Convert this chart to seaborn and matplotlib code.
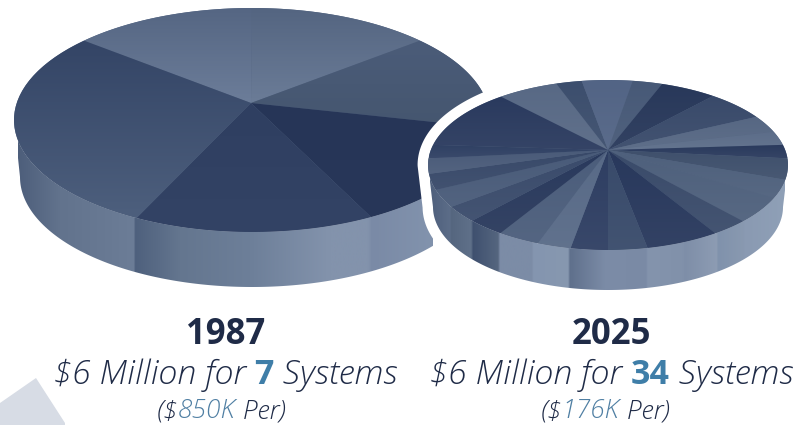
import numpy as np
import matplotlib
matplotlib.use("Agg")
import matplotlib.pyplot as plt
from matplotlib.colors import LinearSegmentedColormap, to_rgb
from matplotlib.patches import Polygon
import seaborn as sns

# ---- data: slice sizes in degrees of the disc, clockwise from the start angle
years = ["1987", "2025"]
systems = ["7", "34"]
per_system = ["850K", "176K"]
budget_label = "$6 Million for "

shares_1987 = [44.9, 44.9, 49.1, 56.0, 59.0, 106.1]
top_1987 = ["#556683", "#546581", "#4b5c79", "#263557", "#2f3f61", "#344566"]
bottom_1987 = ["#6c7d99", "#6b7c97", "#45566f", "#283759", "#334365", "#4d5f7d"]

shares_2025 = [19.8, 8.3, 16.3, 9.6, 18.2, 19.8, 11.5, 9.3, 9.2, 14.5, 12.8, 18.6,
               12.0, 23.9, 12.7, 12.0, 11.0, 13.7, 12.3, 11.5, 12.5, 11.0, 10.5, 9.2, 39.8]
colors_2025 = ["#586985", "#3c4e6d", "#526485", "#475977", "#28385a", "#394a6a", "#566783",
               "#5c6d89", "#2a3a5d", "#3f506c", "#4e607c", "#4e607c", "#3a4b6a", "#28385c",
               "#384a6a", "#2e3e62", "#586a87", "#4b5d7b", "#29395c", "#3a4b6b", "#495b79",
               "#384969", "#4a5b79", "#2f4063", "#2a3a5e"]

side_x_1987 = [18, 60, 134, 135, 180, 250, 330, 368, 372, 433]
side_c_1987 = ["#4d5e7b", "#62738d", "#6c7d97", "#4e607d", "#64768f", "#6d7f99",
               "#8393ac", "#8393ac", "#7a8aa6", "#8293ad"]
side_x_2025 = [430, 450, 451, 471, 473, 498, 500, 532, 533, 568, 570, 606, 646, 648,
               683, 685, 717, 718, 744, 745, 785]
side_c_2025 = ["#4e5f7c", "#5c6d88", "#55667f", "#5f7089", "#3f506f", "#55667f", "#7c8ca7",
               "#7c8ca6", "#8495af", "#8798b0", "#5f708c", "#7c8ca7", "#7a8aa5", "#8494ad",
               "#8191aa", "#7e8ea8", "#8d9cb3", "#8092ac", "#8999b0", "#8a9ab2", "#8fa0b7"]

# ---- layout
W, H = 802, 425
sns.set_theme(style="white")
plt.rcParams["font.family"] = ["Open Sans", "DejaVu Sans"]
fig = plt.figure(figsize=(W / 100, H / 100), dpi=100)
ax = fig.add_axes([0, 0, 1, 1])
ax.set_xlim(0, W)
ax.set_ylim(H, 0)
ax.axis("off")


def rim(t_deg, cx, cy, a, b):
    t = np.radians(t_deg)
    return np.column_stack([cx + a * np.sin(t), cy - b * np.cos(t)])


def vfill(poly, c_top, c_bot, z):
    x0, y0 = poly.min(axis=0)
    x1, y1 = poly.max(axis=0)
    cols = np.array(sns.blend_palette([c_top, c_bot], 48))[:, None, :3]
    im = ax.imshow(cols, extent=(x0, x1, y1, y0), aspect="auto", zorder=z,
                   interpolation="bilinear", origin="upper")
    im.set_clip_path(Polygon(poly, closed=True, transform=ax.transData))


def disc(shares, start, tops, bots, apex, top_e, bot_e, sx, sc, z):
    # side wall
    t = np.linspace(90, 270, 200)
    wall = np.vstack([rim(t, *top_e), rim(t[::-1], *bot_e)])
    pos = (np.array(sx) - sx[0]) / (sx[-1] - sx[0])
    cmap = LinearSegmentedColormap.from_list("s", list(zip(pos, sc)), N=1024)
    im = ax.imshow(np.linspace(0, 1, 1024)[None, :], cmap=cmap, aspect="auto",
                   extent=(sx[0], sx[-1], H, 0), zorder=z, interpolation="bilinear")
    im.set_clip_path(Polygon(wall, closed=True, transform=ax.transData))
    # base to hide seams
    ax.fill(*rim(np.linspace(0, 360, 361), *top_e).T, color=tops[0], zorder=z + 0.1, lw=0)
    # slices
    edges = start + np.concatenate([[0], np.cumsum(shares)])
    for i in range(len(shares)):
        arc = rim(np.linspace(edges[i], edges[i + 1], 40), *top_e)
        poly = np.vstack([[apex], arc])
        vfill(poly, tops[i], bots[i], z + 0.2 + i * 0.001)


def lighten(c, f=0.05):
    r = np.array(to_rgb(c))
    return tuple(r + (1 - r) * f)


# pale backdrop corner
corner_x = [0, 36, 65, 65, 0]
corner_y = [403, 378, 423, 425, 425]
ax.fill(corner_x, corner_y, color="#d7dce5", lw=0, zorder=0.5)

# big disc
disc(shares_1987, -44.9, top_1987, bottom_1987, (251, 103),
     (252, 120, 238, 112), (252, 177, 232, 110), side_x_1987, side_c_1987, 1)

# white halo around small disc
small_top = (608, 165, 180, 85)
small_bot = (608, 207, 175, 83)
tl = np.linspace(90, 270, 181)
halo = np.vstack([rim(tl, *small_bot), rim(np.linspace(270, 450, 181), *small_top)])
ax.add_patch(Polygon(halo, closed=True, fc="white", ec="white", lw=15, joinstyle="round", zorder=3))

# small disc
disc(shares_2025, -36.5, colors_2025, [lighten(c) for c in colors_2025], (608, 150),
     small_top, small_bot, side_x_2025, side_c_2025, 4)
ax.set_xlim(0, W)
ax.set_ylim(H, 0)

# text
INK = "#1f2b47"
BLUE = "#3f7ea8"
SOFT = "#4f7fa3"
renderer = fig.canvas.get_renderer()


def run(pieces, xc, y, size):
    arts = [ax.text(0, y, s, fontsize=size, color=c, style=st, fontweight=w, va="baseline",
                    ha="left", zorder=9) for s, c, st, w in pieces]
    widths = []
    for art, (s, *_r) in zip(arts, pieces):
        art.set_text("|" + s + "|")
        w1 = art.get_window_extent(renderer).width
        art.set_text("||")
        w0 = art.get_window_extent(renderer).width
        art.set_text(s)
        widths.append(w1 - w0)
    x = xc - sum(widths) / 2
    for art, w in zip(arts, widths):
        art.set_x(x)
        x += w


line2_x = [225, 611]
line3_x = [221, 605]
year_x = [226, 611]
for i in range(2):
    ax.text(year_x[i], 344, years[i], fontsize=25, fontweight="bold", color=INK, ha="center",
            va="baseline", zorder=9)
    run([(budget_label, INK, "italic", "light"), (systems[i], BLUE, "normal", "bold"),
         (" Systems", INK, "italic", "light")], line2_x[i], 384, 24.5)
    run([("($", INK, "italic", "light"), (per_system[i], SOFT, "italic", "light"),
         (" Per)", INK, "italic", "light")], line3_x[i], 418, 19)

fig.savefig("out.png", dpi=100)
